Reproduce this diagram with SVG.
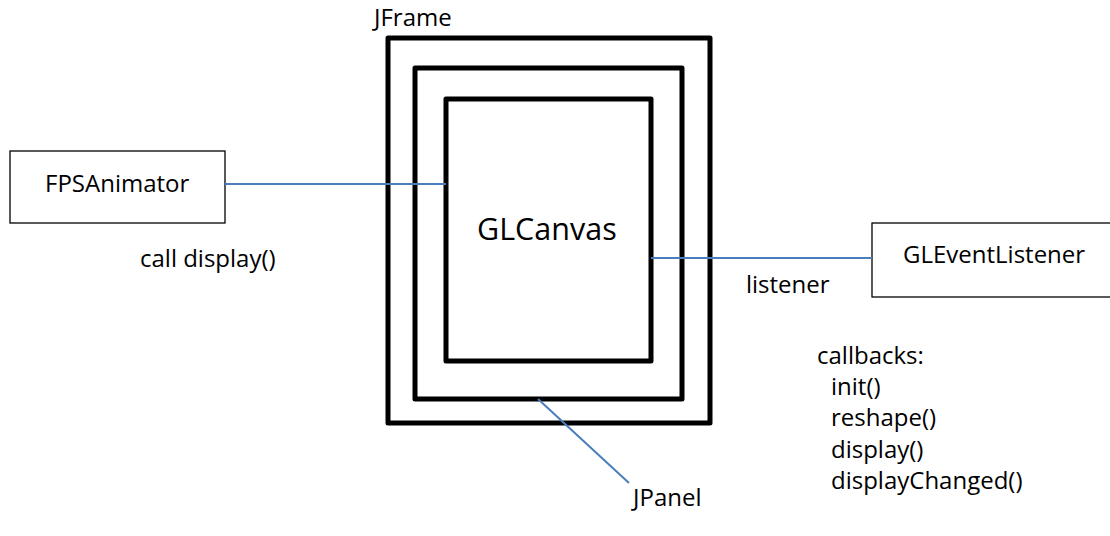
<svg xmlns="http://www.w3.org/2000/svg" width="1110" height="536" viewBox="0 0 1110 536">
  <style>
    .frame { fill: none; stroke: #000; stroke-width: 5; stroke-linejoin: round; }
    .box { fill: #fff; stroke: #000; stroke-width: 1.3; }
    .conn { stroke: #4a7ebb; stroke-width: 2; fill: none; }
    .t { font-family: "Open Sans", "Noto Sans", sans-serif; font-size: 24px; fill: #000; }
    .big { font-size: 30.5px; }
  </style>
  <rect width="1110" height="536" fill="#fff"/>
  <g id="jframe">
    <rect class="frame" x="388" y="38" width="322" height="385"/>
    <text class="t" x="374" y="26">JFrame</text>
  </g>
  <g id="jpanel">
    <rect class="frame" x="415" y="68" width="267" height="331"/>
    <text class="t" x="633" y="506">JPanel</text>
  </g>
  <g id="glcanvas">
    <rect class="frame" x="446" y="99" width="205" height="262"/>
    <text class="t big" x="477" y="240">GLCanvas</text>
  </g>
  <g id="fpsanimator">
    <rect class="box" x="10" y="151" width="215" height="72"/>
    <text class="t" x="45" y="192">FPSAnimator</text>
  </g>
  <g id="gleventlistener">
    <rect class="box" x="872" y="223" width="260" height="74"/>
    <text class="t" x="903" y="263">GLEventListener</text>
  </g>
  <g id="connectors">
    <line class="conn" x1="225" y1="184" x2="446" y2="184"/>
    <line class="conn" x1="651" y1="258" x2="872" y2="258"/>
    <line class="conn" x1="538" y1="399" x2="629" y2="483"/>
  </g>
  <g id="labels">
    <text class="t" x="140" y="267">call display()</text>
    <text class="t" x="746" y="293">listener</text>
    <text class="t" x="817" y="364">callbacks:</text>
    <text class="t" x="831" y="395">init()</text>
    <text class="t" x="831" y="426">reshape()</text>
    <text class="t" x="831" y="458">display()</text>
    <text class="t" x="831" y="489">displayChanged()</text>
  </g>
</svg>
